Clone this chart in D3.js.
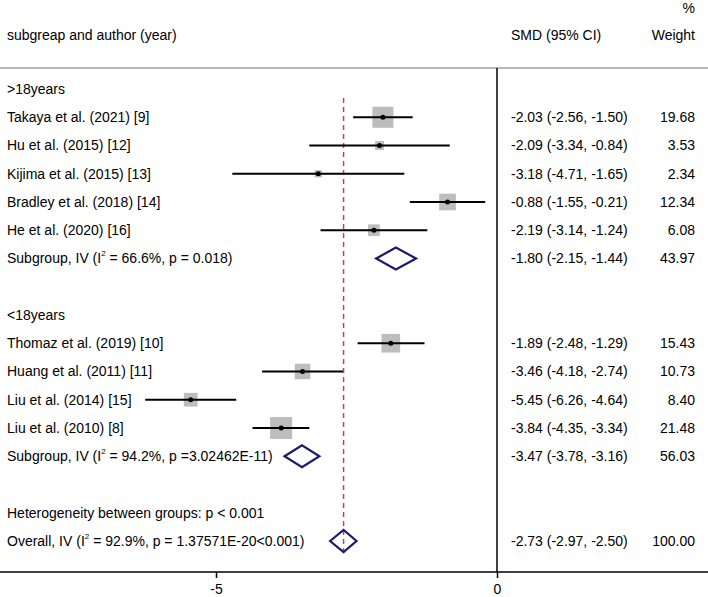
<!DOCTYPE html>
<html>
  <head>
    <meta charset="utf-8">
    <script src="https://cdn.jsdelivr.net/npm/d3@7/dist/d3.min.js"></script>
    <style>
      body { margin: 0; background: #fff; }
      text { font-family: "Liberation Sans", Arial, sans-serif; font-size: 14px; fill: #000; }
    </style>
  </head>
  <body>
    <script>
      const width = 708;
      const height = 597;

      // study rows
      const studies = ['Takaya et al. (2021) [9]', 'Hu et al. (2015) [12]', 'Kijima et al. (2015) [13]',
        'Bradley et al. (2018) [14]', 'He et al. (2020) [16]',
        'Thomaz et al. (2019) [10]', 'Huang et al. (2011) [11]', 'Liu et al. (2014) [15]', 'Liu et al. (2010) [8]'];
      const studyRows = [1, 2, 3, 4, 5, 9, 10, 11, 12];
      const smd = [-2.03, -2.09, -3.18, -0.88, -2.19, -1.89, -3.46, -5.45, -3.84];
      const lower = [-2.56, -3.34, -4.71, -1.55, -3.14, -2.48, -4.18, -6.26, -4.35];
      const upper = [-1.50, -0.84, -1.65, -0.21, -1.24, -1.29, -2.74, -4.64, -3.34];
      const weights = [19.68, 3.53, 2.34, 12.34, 6.08, 15.43, 10.73, 8.40, 21.48];

      // pooled rows
      const pooledLabels = [
        ['Subgroup, IV (I', '2', ' = 66.6%, p = 0.018)'],
        ['Subgroup, IV (I', '2', ' = 94.2%, p =3.02462E-11)'],
        ['Overall, IV (I', '2', ' = 92.9%, p = 1.37571E-20<0.001)']
      ];
      const pooledRows = [6, 13, 16];
      const pooledSmd = [-1.80, -3.47, -2.73];
      const pooledLower = [-2.15, -3.78, -2.97];
      const pooledUpper = [-1.44, -3.16, -2.50];
      const pooledWeights = [43.97, 56.03, 100.00];

      const groupLabels = ['>18years', '<18years', 'Heterogeneity between groups: p < 0.001'];
      const groupRows = [0, 8, 15];

      const xTicks = [-5, 0];

      const x = d3.scaleLinear().domain([-5, 0]).range([216, 497]);
      const y = d3.scaleLinear().domain([0, 16]).range([89, 541]);
      const boxSize = d3.scaleSqrt().domain([0, 21.48]).range([0, 22]);
      const locale = d3.formatLocale({decimal: '.', thousands: ',', grouping: [3], currency: ['', ''], minus: '-'});
      const fmt = locale.format('.2f');

      const svg = d3.select('body').append('svg')
        .attr('width', width)
        .attr('height', height);

      // header
      svg.append('text').attr('x', 7).attr('y', 40).text('subgreap and author (year)');
      svg.append('text').attr('x', 511).attr('y', 40).text('SMD (95% CI)');
      svg.append('text').attr('x', 695).attr('y', 40).attr('text-anchor', 'end').text('Weight');
      svg.append('text').attr('x', 695).attr('y', 13).attr('text-anchor', 'end').text('%');

      svg.append('line')
        .attr('x1', 0).attr('x2', width).attr('y1', 68).attr('y2', 68)
        .style('stroke', '#a0a0a0').style('stroke-width', 1.5);

      // null line
      svg.append('line')
        .attr('x1', x(0)).attr('x2', x(0)).attr('y1', 68).attr('y2', 572)
        .style('stroke', '#000').style('stroke-width', 1.5);

      // overall dashed line
      svg.append('line')
        .attr('x1', x(pooledSmd[2])).attr('x2', x(pooledSmd[2]))
        .attr('y1', 98).attr('y2', y(16) + 15)
        .style('stroke', '#b04a5a').style('stroke-width', 1.5)
        .style('stroke-dasharray', '5, 4');

      // group headings
      svg.selectAll('.grp').data(groupLabels).enter()
        .append('text')
        .attr('x', 7)
        .attr('y', (d, i) => y(groupRows[i]))
        .attr('dy', '0.35em')
        .text(d => d);

      // studies
      const rows = svg.selectAll('.study').data(studies).enter()
        .append('g').attr('class', 'study');

      rows.append('text')
        .attr('x', 7).attr('y', (d, i) => y(studyRows[i])).attr('dy', '0.35em')
        .text(d => d);

      rows.append('rect')
        .attr('x', (d, i) => x(smd[i]) - boxSize(weights[i]) / 2)
        .attr('y', (d, i) => y(studyRows[i]) - boxSize(weights[i]) / 2)
        .attr('width', (d, i) => boxSize(weights[i]))
        .attr('height', (d, i) => boxSize(weights[i]))
        .style('fill', '#bdbdbd');

      rows.append('line')
        .attr('x1', (d, i) => x(lower[i])).attr('x2', (d, i) => x(upper[i]))
        .attr('y1', (d, i) => y(studyRows[i])).attr('y2', (d, i) => y(studyRows[i]))
        .style('stroke', '#000').style('stroke-width', 2);

      rows.append('circle')
        .attr('cx', (d, i) => x(smd[i])).attr('cy', (d, i) => y(studyRows[i]))
        .attr('r', 2.5).style('fill', '#000');

      rows.append('text')
        .attr('x', 511).attr('y', (d, i) => y(studyRows[i])).attr('dy', '0.35em')
        .text((d, i) => `${fmt(smd[i])} (${fmt(lower[i])}, ${fmt(upper[i])})`);

      rows.append('text')
        .attr('x', 695).attr('y', (d, i) => y(studyRows[i])).attr('dy', '0.35em')
        .attr('text-anchor', 'end')
        .text((d, i) => fmt(weights[i]));

      // pooled
      const pooled = svg.selectAll('.pooled').data(pooledLabels).enter()
        .append('g').attr('class', 'pooled');

      const pl = pooled.append('text')
        .attr('x', 7).attr('y', (d, i) => y(pooledRows[i])).attr('dy', '0.35em');
      pl.append('tspan').text(d => d[0]);
      pl.append('tspan').text(d => d[1])
        .style('font-size', '8px').attr('dy', '-0.9em');
      pl.append('tspan').text(d => d[2]).attr('dy', '0.5em');

      pooled.append('path')
        .attr('d', (d, i) => {
          const cy = y(pooledRows[i]);
          return `M${x(pooledLower[i])},${cy}L${x(pooledSmd[i])},${cy - 11}L${x(pooledUpper[i])},${cy}L${x(pooledSmd[i])},${cy + 11}Z`;
        })
        .style('fill', 'none').style('stroke', '#1a1a6e').style('stroke-width', 2.2);

      pooled.append('text')
        .attr('x', 511).attr('y', (d, i) => y(pooledRows[i])).attr('dy', '0.35em')
        .text((d, i) => `${fmt(pooledSmd[i])} (${fmt(pooledLower[i])}, ${fmt(pooledUpper[i])})`);

      pooled.append('text')
        .attr('x', 695).attr('y', (d, i) => y(pooledRows[i])).attr('dy', '0.35em')
        .attr('text-anchor', 'end')
        .text((d, i) => fmt(pooledWeights[i]));

      // axis
      svg.append('line')
        .attr('x1', 0).attr('x2', width).attr('y1', 572).attr('y2', 572)
        .style('stroke', '#000').style('stroke-width', 1.5);

      const axis = svg.append('g')
        .attr('transform', 'translate(0,572)')
        .call(d3.axisBottom(x).tickValues(xTicks).tickFormat(locale.format('d')).tickSize(6).tickPadding(6));
      axis.select('.domain').remove();
      axis.selectAll('line').style('stroke', '#000').style('stroke-width', 1.5);
      axis.selectAll('text').style('font-size', '14px').style('font-family', '"Liberation Sans", Arial, sans-serif');
    </script>
  </body>
</html>
